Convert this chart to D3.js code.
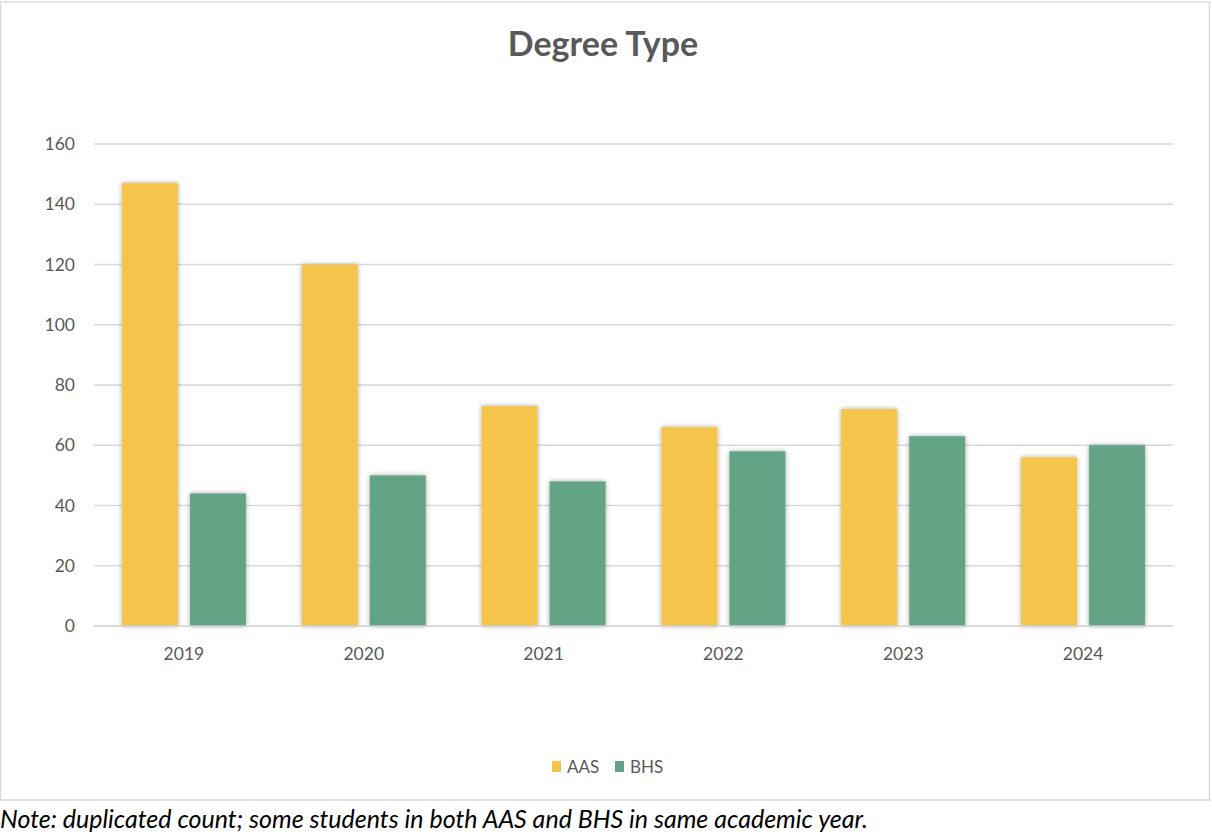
<!DOCTYPE html>
<html>
<head>
<meta charset="utf-8">
<script src="https://cdn.jsdelivr.net/npm/d3@7"></script>
<style>
  body { margin: 0; background: #fff; }
  svg text { font-family: Lato, "Open Sans", sans-serif; }
</style>
</head>
<body>
<script>
var years = ['2019', '2020', '2021', '2022', '2023', '2024'];
var seriesNames = ['AAS', 'BHS'];
var aas = [147, 120, 73, 66, 72, 56];
var bhs = [44, 50, 48, 58, 63, 60];
var yTicks = [0, 20, 40, 60, 80, 100, 120, 140, 160];
var colors = ['#F4C44C', '#64A386'];

var w = 1212, h = 840;
var mLeft = 94, mRight = 1173, mTop = 144, mBottom = 626;

var svg = d3.select('body').append('svg')
  .attr('width', w)
  .attr('height', h);

var defs = svg.append('defs');
var f = defs.append('filter').attr('id', 'shadow')
  .attr('x', '-20%').attr('y', '-10%').attr('width', '140%').attr('height', '120%');
f.append('feDropShadow')
  .attr('dx', 0).attr('dy', 0)
  .attr('stdDeviation', 2.5)
  .attr('flood-color', '#000')
  .attr('flood-opacity', 0.35);

// frame
svg.append('rect')
  .attr('x', 0.5).attr('y', 2)
  .attr('width', 1209).attr('height', 798)
  .attr('fill', 'none')
  .attr('stroke', '#d9d9d9')
  .attr('stroke-width', 1.5);

svg.append('text')
  .attr('x', 603).attr('y', 56)
  .attr('text-anchor', 'middle')
  .attr('font-size', 34)
  .attr('font-weight', 'bold')
  .attr('fill', '#595959')
  .text('Degree Type');

var x = d3.scaleBand().domain(years).range([mLeft, mRight]);
var y = d3.scaleLinear().domain([0, 160]).range([mBottom, mTop]);

// gridlines
svg.append('g').selectAll('line')
  .data(yTicks.filter(function(d) { return d > 0; }))
  .join('line')
  .attr('x1', mLeft).attr('x2', mRight)
  .attr('y1', function(d) { return y(d); })
  .attr('y2', function(d) { return y(d); })
  .attr('stroke', '#d9d9d9')
  .attr('stroke-width', 1.3);

// y labels
svg.append('g').selectAll('text')
  .data(yTicks)
  .join('text')
  .attr('x', 75)
  .attr('y', function(d) { return y(d) + 6; })
  .attr('text-anchor', 'end')
  .attr('font-size', 17.5)
  .attr('fill', '#595959')
  .text(function(d) { return d; });

// bars
var barW = 56, gap = 12;
var groups = svg.append('g').selectAll('g')
  .data(years)
  .join('g')
  .attr('transform', function(d) { return 'translate(' + x(d) + ',0)'; });

var pad = (x.bandwidth() - 2 * barW - gap) / 2;
[aas, bhs].forEach(function(vals, s) {
  groups.append('rect')
    .attr('x', pad + s * (barW + gap))
    .attr('y', function(d, i) { return y(vals[i]); })
    .attr('width', barW)
    .attr('height', function(d, i) { return y(0) - y(vals[i]); })
    .attr('fill', colors[s])
    .attr('filter', 'url(#shadow)');
});

// zero axis
svg.append('line')
  .attr('x1', mLeft).attr('x2', mRight)
  .attr('y1', y(0)).attr('y2', y(0))
  .attr('stroke', '#cfcfcf')
  .attr('stroke-width', 1.5);

// x labels
svg.append('g').selectAll('text')
  .data(years)
  .join('text')
  .attr('x', function(d) { return x(d) + x.bandwidth() / 2; })
  .attr('y', 660)
  .attr('text-anchor', 'middle')
  .attr('font-size', 17.5)
  .attr('fill', '#595959')
  .text(function(d) { return d; });

// legend
var legX = [552, 615];
seriesNames.forEach(function(n, i) {
  svg.append('rect')
    .attr('x', legX[i]).attr('y', 761)
    .attr('width', 9).attr('height', 11)
    .attr('fill', colors[i]);
  svg.append('text')
    .attr('x', legX[i] + 15).attr('y', 773)
    .attr('font-size', 17)
    .attr('fill', '#595959')
    .text(n);
});

svg.append('text')
  .attr('x', 0).attr('y', 828)
  .attr('font-size', 25)
  .attr('font-style', 'italic')
  .attr('fill', '#000')
  .text('Note: duplicated count; some students in both AAS and BHS in same academic year.');
</script>
</body>
</html>
